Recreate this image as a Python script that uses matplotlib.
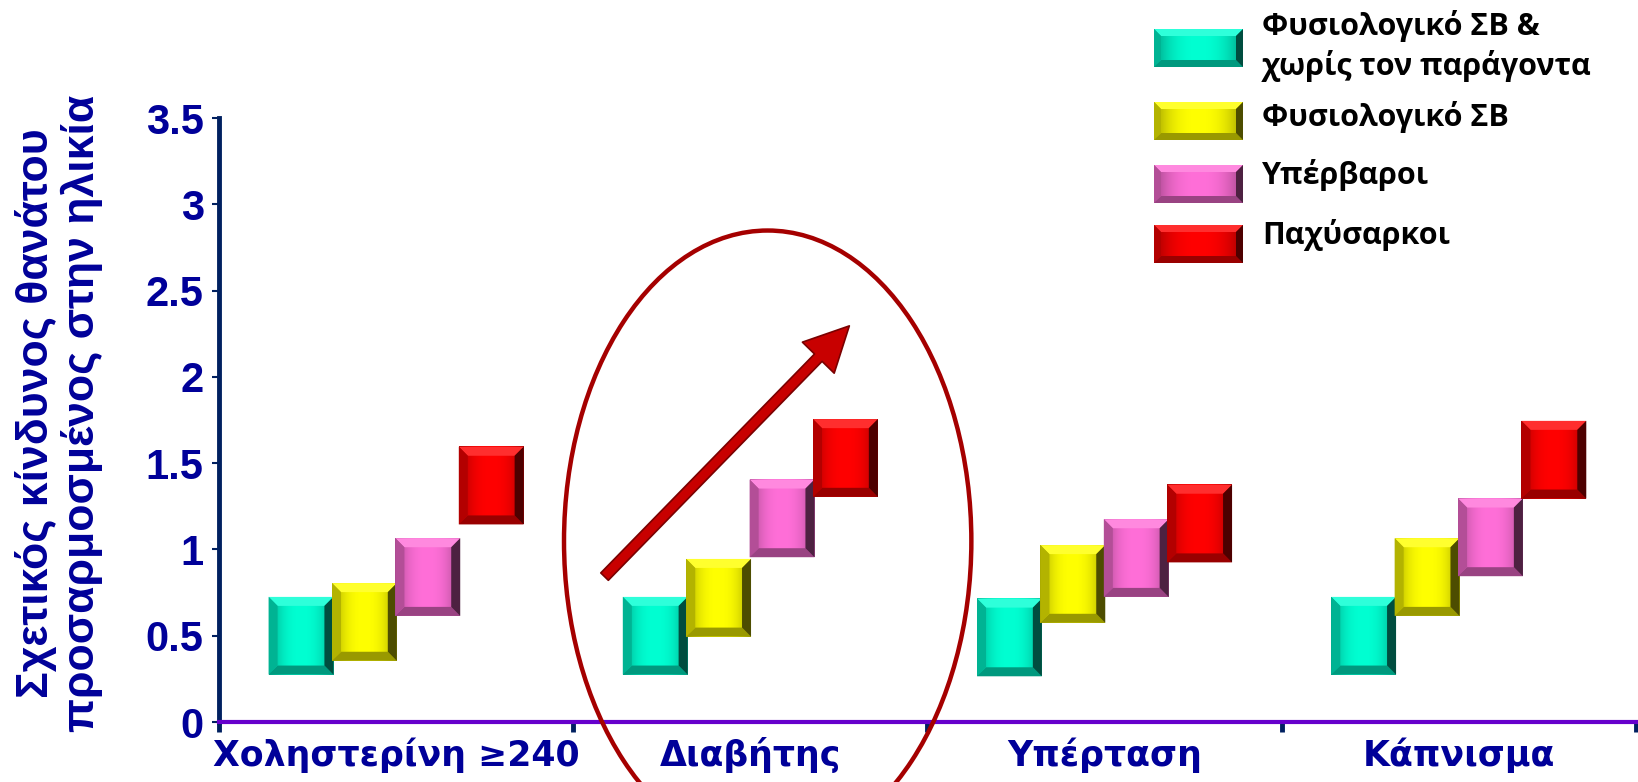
import numpy as np
import matplotlib
matplotlib.use("Agg")
import matplotlib.pyplot as plt
from matplotlib.colors import to_rgb
from matplotlib.patches import Polygon, Ellipse

# data
categories = ["Χοληστερίνη ≥240", "Διαβήτης", "Υπέρταση", "Κάπνισμα"]
series_labels = ["Φυσιολογικό ΣΒ &\nχωρίς τον παράγοντα", "Φυσιολογικό ΣΒ",
                 "Υπέρβαροι", "Παχύσαρκοι"]
series_colors = ["#00FFD2", "#FFFF00", "#FF6FD8", "#FF0000"]
# centre of each floating box (relative risk)
normal_no_factor = [0.50, 0.50, 0.49, 0.50]
normal_weight = [0.58, 0.72, 0.80, 0.84]
overweight = [0.84, 1.18, 0.95, 1.07]
obese = [1.37, 1.53, 1.15, 1.52]
series_values = [normal_no_factor, normal_weight, overweight, obese]
yticks = [0, 0.5, 1, 1.5, 2, 2.5, 3, 3.5]
ytick_labels = ["0", "0.5", "1", "1.5", "2", "2.5", "3", "3.5"]
ylabel = "Σχετικός κίνδυνος θανάτου\nπροσαρμοσμένος στην ηλικία"

NAVY = "#000099"
BOX_W = 0.183
BOX_H = 0.45
STEP = 0.179


def shade(rgb, f):
    rgb = np.array(rgb)
    if f >= 1:
        return tuple(rgb + (1 - rgb) * (f - 1))
    return tuple(rgb * f)


def bevel_box(ax, x0, y0, w, h, color, bx, by, z):
    rgb = to_rgb(color)
    t = np.linspace(-1, 1, 40)
    face = np.array([shade(rgb, 1 - 0.35 * abs(v) ** 2.5) for v in t])[None, :, :]
    ax.imshow(face, extent=(x0, x0 + w, y0, y0 + h), aspect="auto",
              interpolation="bilinear", zorder=z)
    parts = [
        ([(x0, y0 + h), (x0 + w, y0 + h), (x0 + w - bx, y0 + h - by), (x0 + bx, y0 + h - by)], 1.18),
        ([(x0, y0), (x0 + w, y0), (x0 + w - bx, y0 + by), (x0 + bx, y0 + by)], 0.6),
        ([(x0, y0), (x0 + bx, y0 + by), (x0 + bx, y0 + h - by), (x0, y0 + h)], 0.7),
        ([(x0 + w, y0), (x0 + w - bx, y0 + by), (x0 + w - bx, y0 + h - by), (x0 + w, y0 + h)], 0.3),
    ]
    for pts, f in parts:
        ax.add_patch(Polygon(pts, closed=True, facecolor=shade(rgb, f),
                             edgecolor="none", zorder=z + 0.1))


fig = plt.figure(figsize=(16.38, 7.82), dpi=100)
ax = fig.add_axes([0.1337, 0.0767, 0.865, 0.7724])
ax.set_xlim(-0.5, len(categories) - 0.5)
ax.set_ylim(0, 3.5)

# bevel size in data units (about 9 px)
px_x = (len(categories)) / (0.865 * 1638)
px_y = 3.5 / (0.7724 * 782)
bx, by = 9 * px_x, 9 * px_y

for i, (vals, col) in enumerate(zip(series_values, series_colors)):
    for j, v in enumerate(vals):
        xc = j + (i - 1.5) * STEP
        bevel_box(ax, xc - BOX_W / 2, v - BOX_H / 2, BOX_W, BOX_H, col, bx, by, 3 + i)

# circled diabetes group and trend arrow
ax.add_patch(Ellipse((1.049, 1.048), 1.15, 3.60, facecolor="none",
                     edgecolor="#A50000", lw=3.2, clip_on=False, zorder=8))
ax.annotate("", xy=(1.285, 2.307), xytext=(0.583, 0.831),
            arrowprops=dict(arrowstyle="simple,head_length=1.6,head_width=1.6,tail_width=0.38",
                            mutation_scale=20, facecolor="#C80000",
                            edgecolor="#7A0000", lw=1.2), zorder=9)

ax.spines["top"].set_visible(False)
ax.spines["right"].set_visible(False)
ax.spines["left"].set_color("#002060")
ax.spines["left"].set_linewidth(3.5)
ax.spines["bottom"].set_color("#6600CC")
ax.spines["bottom"].set_linewidth(3)

ax.set_yticks(yticks)
ax.set_yticklabels(ytick_labels)
ax.tick_params(axis="y", direction="out", length=5, width=1.5, color="#002060",
               pad=6, labelcolor=NAVY)
for lab in ax.get_yticklabels():
    lab.set_fontfamily("Liberation Sans")
    lab.set_fontweight("bold")
    lab.set_fontsize(30)

ax.set_xticks(range(len(categories)))
ax.set_xticklabels(categories)
ax.set_xticks(np.arange(-0.5, len(categories), 1.0), minor=True)
ax.tick_params(axis="x", which="major", length=0, pad=11, labelcolor=NAVY)
ax.tick_params(axis="x", which="minor", direction="out", length=7, width=3.5,
               color="#002060")
for lab in ax.get_xticklabels():
    lab.set_fontfamily("DejaVu Sans")
    lab.set_fontweight("bold")
    lab.set_fontsize(25)

fig.text(0.036, 0.472, ylabel, rotation=90, ha="center", va="center",
         color=NAVY, fontsize=32, fontweight="bold", family="Liberation Sans",
         linespacing=1.1)

# legend drawn in pixel coordinates
lax = fig.add_axes([0, 0, 1, 1])
lax.set_xlim(0, 1638)
lax.set_ylim(0, 782)
lax.axis("off")
box_tops = [29, 102, 165, 225]
text_y = [46, 117, 175, 235]
for col, top, lab, ty in zip(series_colors, box_tops, series_labels, text_y):
    bevel_box(lax, 1154, 782 - top - 38, 89, 38, col, 7, 7, 3)
    lax.text(1262, 782 - ty, lab, ha="left", va="center", fontsize=22,
             fontweight="bold", family=["Open Sans", "DejaVu Sans"],
             color="black", linespacing=1.3)

fig.savefig("out.png", dpi=100)
